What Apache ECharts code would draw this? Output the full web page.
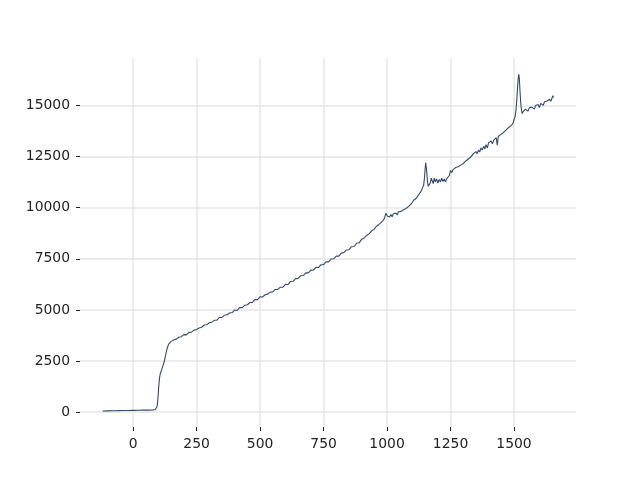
<!DOCTYPE html>
<html>
<head>
<meta charset="utf-8">
<script src="https://cdn.jsdelivr.net/npm/echarts@6/dist/echarts.min.js"></script>
<style>html,body{margin:0;padding:0;background:#fff;}#c{width:640px;height:480px;}</style>
</head>
<body>
<div id="c"></div>
<script>
const xTicks = [0, 250, 500, 750, 1000, 1250, 1500];
const yTicks = [0, 2500, 5000, 7500, 10000, 12500, 15000];
const xs = [-120,-100,-80,-60,-40,-20,0,20,40,60,80,88,
92,95,98,101,104,107,111,115,120,125,130,135,140,146,
150,160,170,180,190,200,210,220,230,240,250,260,270,280,290,300,310,320,330,340,350,360,370,380,390,400,
410,420,430,440,450,460,470,480,490,500,510,520,530,540,550,560,570,580,590,600,
610,620,630,640,650,660,670,680,690,700,710,720,730,740,750,760,770,780,790,800,
810,820,830,840,850,860,870,880,890,900,
905,910,915,920,925,930,935,940,945,950,955,960,965,970,975,980,985,990,995,998,
1002,1006,1010,1015,1020,1025,1030,1035,1040,1045,1050,1055,1060,1065,1070,1075,1080,1085,1090,1095,1100,
1105,1110,1115,1120,1125,1130,1135,1140,1144,1147,1150,1152,1154,1156,1159,1162,1166,1170,1174,1178,1182,1186,1190,1195,1200,
1205,1210,1215,1220,1225,1230,1235,1240,1245,1250,1255,1260,1265,1270,1275,1280,1285,1290,1295,1300,
1305,1310,1315,1320,1325,1330,1335,1340,1345,1350,1355,1360,1365,1370,1375,1380,1385,1390,1395,1400,
1405,1410,1415,1420,1425,1430,1434,1438,1442,1446,1450,1455,1460,1465,1470,1475,1480,1485,1490,1495,1500,
1504,1508,1511,1514,1517,1519,1521,1523,1526,1529,1532,1536,1540,1545,1550,1555,1560,1565,1570,1575,1580,
1585,1590,1595,1600,1605,1610,1615,1620,1625,1630,1635,1640,1645,1650,1653,1655];
const ys = [55,62,68,72,78,82,88,92,97,100,110,125,
160,300,700,1250,1650,1880,2020,2180,2350,2600,2900,3150,3330,3420,
3460,3530,3570,3660,3690,3790,3780,3900,3910,4010,4040,4110,4150,4260,4270,4370,4400,4490,4500,4640,4630,4740,4760,4850,4870,4990,
4980,5120,5110,5230,5250,5360,5370,5510,5500,5640,5630,5740,5770,5870,5880,6000,6000,6110,6110,6250,
6240,6390,6400,6530,6540,6670,6680,6810,6810,6950,6940,7080,7070,7210,7210,7350,7350,7490,7500,7630,
7630,7780,7800,7930,7940,8090,8100,8260,8280,8450,
8440,8520,8480,8640,8600,8730,8700,8870,8820,8950,9050,9000,9150,9120,9260,9230,9380,9480,9720,9800,
9580,9640,9540,9660,9560,9700,9620,9740,9640,9800,9720,9820,9760,9900,9840,9960,9900,10060,10000,10180,10120,
10360,10300,10460,10420,10640,10600,10820,10880,11100,11400,11900,12200,12150,11800,11300,11050,11000,11200,11440,11300,11180,11440,11260,11400,11200,
11380,11260,11440,11280,11400,11260,11420,11380,11560,11820,11720,11860,11800,11960,11880,12000,11940,12080,12020,12160,
12100,12280,12220,12380,12300,12480,12400,12640,12560,12740,12640,12820,12720,12920,12820,13000,12880,13080,12920,13180,
13100,13260,13120,13300,13220,13420,13050,13480,13400,13560,13500,13640,13580,13760,13680,13880,13820,13980,13940,14100,14300,
14450,14800,15300,15900,16400,16520,16300,15800,15200,14800,14600,14700,14650,14820,14780,14720,14880,14800,14920,14860,14820,
15000,14940,15040,14900,15100,15060,15000,15180,15100,15220,15140,15300,15200,15280,15480,15380];

const data = xs.map((x, i) => [x, ys[i]]);
const font = 'DejaVu Sans';
const chart = echarts.init(document.getElementById('c'), null, {renderer: 'canvas'});
chart.setOption({
  animation: false,
  backgroundColor: '#fff',
  grid: {left: 80, right: 64, top: 58, bottom: 53, containLabel: false},
  xAxis: {
    type: 'value', min: -209, max: 1744,
    axisLine: {show: false, onZero: false},
    axisTick: {show: true, length: 4, customValues: xTicks, lineStyle: {color: '#222', width: 1}},
    axisLabel: {customValues: xTicks, color: '#222', fontFamily: font, fontSize: 13.9, margin: 10, formatter: v => String(v)},
    splitLine: {show: true, lineStyle: {color: '#e6e6e6', width: 1.5}}
  },
  yAxis: {
    type: 'value', min: -727, max: 17319,
    axisLine: {show: false, onZero: false},
    axisTick: {show: true, length: 4, customValues: yTicks, lineStyle: {color: '#222', width: 1}},
    axisLabel: {customValues: yTicks, color: '#222', fontFamily: font, fontSize: 13.9, margin: 10, formatter: v => String(v)},
    splitLine: {show: true, lineStyle: {color: '#e6e6e6', width: 1.5}}
  },
  series: [{
    type: 'line', data: data, symbol: 'none', smooth: false,
    lineStyle: {color: '#2f4a6d', width: 1.1}
  }]
});
</script>
</body>
</html>
